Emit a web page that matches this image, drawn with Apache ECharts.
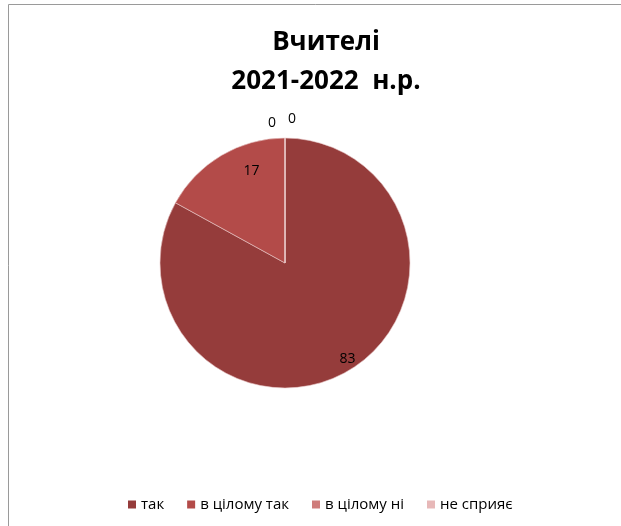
<!DOCTYPE html>
<html>
<head>
<meta charset="utf-8">
<script src="https://cdn.jsdelivr.net/npm/echarts@6/dist/echarts.min.js"></script>
<style>
  html, body { margin: 0; padding: 0; background: #fff; }
  #chart { width: 621px; height: 526px; }
</style>
</head>
<body>
<div id="chart"></div>
<script>
// дані діаграми
var categories = ["так", "в цілому так", "в цілому ні", "не сприяє"];
var values = [83, 17, 0, 0];
var colors = ["#953C3B", "#B34B49", "#CF7C7B", "#E7B8B8"];
var titleLines = ["Вчителі", "2021-2022  н.р."];

// зсуви підписів, щоб стояли як в Excel
var labelShift = [[7, 2], [22, 2], [-22, -9], [-2, -13]];

var myChart = echarts.init(document.getElementById("chart"));

// основний пиріг: підписи нулів зовні
var pieData = categories.map(function (name, i) {
  return {
    name: name,
    value: values[i],
    itemStyle: { color: colors[i] },
    label: { show: values[i] === 0, offset: labelShift[i] },
  };
});

// прозорий шар лише для підписів усередині секторів
var labelData = categories.map(function (name, i) {
  return {
    name: name,
    value: values[i],
    label: { show: values[i] !== 0, offset: labelShift[i] },
  };
});

var option = {
  backgroundColor: "#fff",
  animation: false,
  title: {
    text: titleLines.join("\n"),
    left: 321,
    textAlign: "center",
    top: 18,
    textStyle: {
      fontFamily: "Open Sans",
      fontWeight: "bold",
      fontSize: 26,
      lineHeight: 39,
      color: "#000",
    },
  },
  legend: {
    data: categories,
    left: 123,
    top: 492,
    icon: "rect",
    itemWidth: 8,
    itemHeight: 8,
    itemGap: 23,
    selectedMode: false,
    itemStyle: { borderWidth: 0 },
    textStyle: { fontFamily: "Open Sans", fontSize: 15, color: "#000" },
  },
  graphic: [
    {
      type: "rect",
      shape: { x: 8.5, y: 4.5, width: 700, height: 700 },
      style: { fill: "none", stroke: "#9a9a9a", lineWidth: 1 },
      silent: true,
    },
  ],
  series: [
    {
      name: "Вчителі",
      type: "pie",
      center: [285, 263],
      radius: [0, 125],
      startAngle: 90,
      clockwise: true,
      avoidLabelOverlap: false,
      silent: true,
      itemStyle: { borderColor: "#e9c9c9", borderWidth: 0.6 },
      label: {
        position: "outside",
        fontFamily: "Open Sans",
        fontSize: 14,
        color: "#000",
        formatter: "{c}",
      },
      labelLine: { show: false, length: 6, length2: 0 },
      data: pieData,
    },
    {
      name: "labels",
      type: "pie",
      center: [285, 263],
      radius: [0, 212],
      startAngle: 90,
      clockwise: true,
      silent: true,
      itemStyle: { color: "rgba(0,0,0,0)", borderWidth: 0 },
      label: {
        position: "inside",
        fontFamily: "Open Sans",
        fontSize: 14,
        color: "#000",
        formatter: "{c}",
      },
      labelLine: { show: false },
      data: labelData,
    },
  ],
};

myChart.setOption(option);
</script>
</body>
</html>
